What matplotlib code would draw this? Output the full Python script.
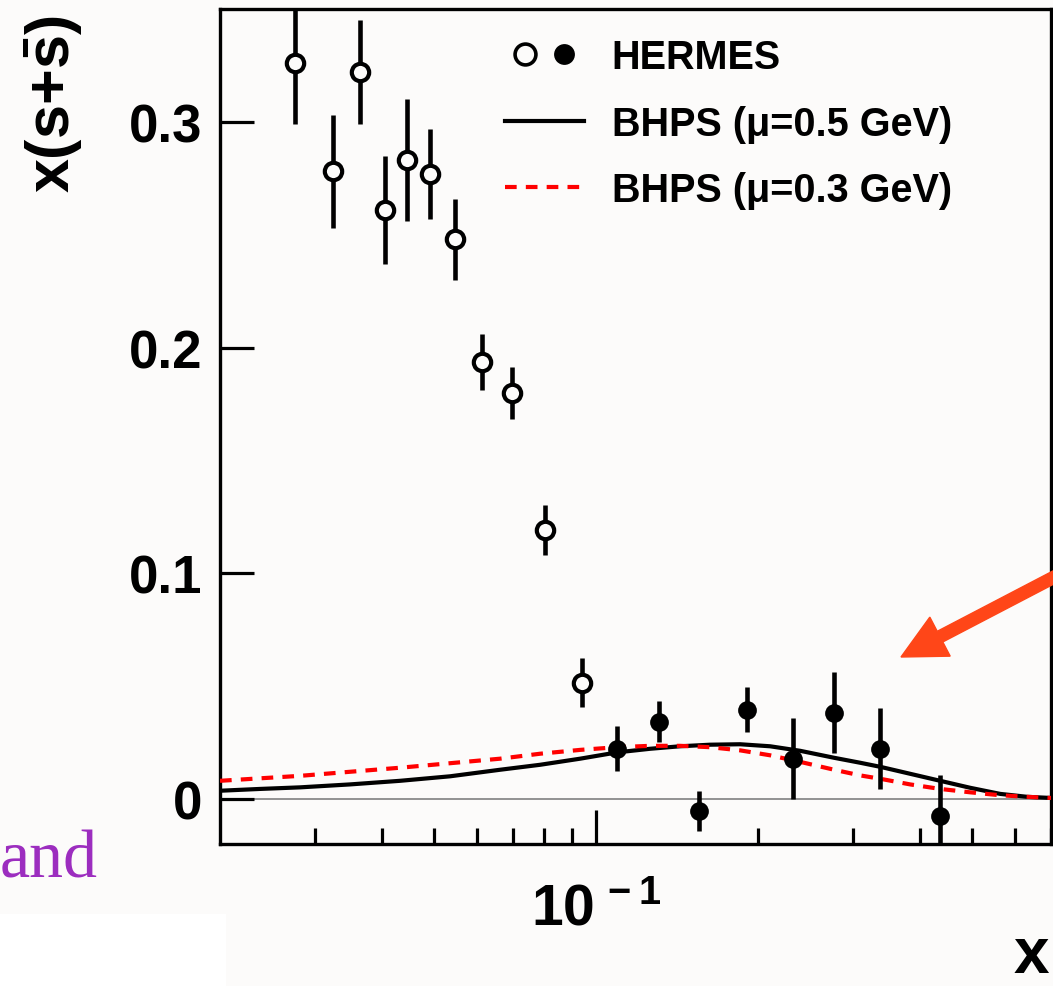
import matplotlib
matplotlib.use("Agg")
import matplotlib.pyplot as plt
from matplotlib.ticker import FixedLocator, FixedFormatter, NullFormatter
from matplotlib.legend_handler import HandlerTuple
from matplotlib.lines import Line2D
from matplotlib.patches import Rectangle, FancyArrow

# HERMES points, open (low x) and filled (high x)
x_open = [0.0276, 0.0324, 0.0364, 0.0405, 0.0445, 0.0491, 0.0547, 0.0614, 0.0698, 0.0804, 0.0942]
y_open = [0.326, 0.278, 0.322, 0.261, 0.283, 0.277, 0.248, 0.1935, 0.180, 0.119, 0.0515]
e_open = [0.027, 0.025, 0.023, 0.024, 0.027, 0.020, 0.018, 0.0124, 0.0115, 0.011, 0.0107]

x_full = [0.1094, 0.1309, 0.1553, 0.1908, 0.2323, 0.2768, 0.3372, 0.4357]
y_full = [0.0222, 0.0342, -0.0053, 0.0395, 0.0178, 0.0382, 0.0222, -0.0075]
e_full = [0.010, 0.009, 0.009, 0.010, 0.018, 0.018, 0.018, 0.018]

# BHPS curves
x_bhps = [0.0200, 0.02373, 0.02817, 0.03487, 0.04321, 0.05353, 0.06628, 0.07866, 0.09335,
          0.1094, 0.1260, 0.1432, 0.1628, 0.1851, 0.2105, 0.2393, 0.2768, 0.3094,
          0.3372, 0.3833, 0.4357, 0.4955, 0.5633, 0.6324, 0.70]
y_mu05 = [0.0036, 0.0044, 0.0051, 0.0064, 0.0080, 0.0100, 0.0129, 0.0151, 0.0178,
          0.0206, 0.0222, 0.0233, 0.0240, 0.0242, 0.0233, 0.0213, 0.0182, 0.0160,
          0.0142, 0.0111, 0.0080, 0.0049, 0.0022, 0.0009, 0.0004]
y_mu03 = [0.0080, 0.0091, 0.0102, 0.0120, 0.0138, 0.0158, 0.0178, 0.0200, 0.0217,
          0.0229, 0.0235, 0.0235, 0.0229, 0.0215, 0.0193, 0.0164, 0.0129, 0.0104,
          0.0089, 0.0064, 0.0044, 0.0029, 0.0016, 0.0009, 0.0004]

legend_labels = ["HERMES", "BHPS (\u03bc=0.5 GeV)", "BHPS (\u03bc=0.3 GeV)"]
y_ticks = [0, 0.1, 0.2, 0.3]
y_ticklabels = ["0", "0.1", "0.2", "0.3"]

bg = "#fcfbfa"
W, H = 1053, 987

plt.rcParams["font.family"] = ["Liberation Sans", "DejaVu Sans"]
plt.rcParams["font.weight"] = "bold"
plt.rcParams["axes.labelweight"] = "bold"
plt.rcParams["mathtext.fontset"] = "custom"
plt.rcParams["mathtext.rm"] = "Liberation Sans:bold"
plt.rcParams["mathtext.it"] = "Liberation Sans:bold"
plt.rcParams["mathtext.bf"] = "Liberation Sans:bold"

fig = plt.figure(figsize=(W / 100, H / 100), dpi=100, facecolor=bg)
ax = fig.add_axes([220 / W, 142 / H, 831 / W, 835 / H])
ax.set_facecolor(bg)

ax.axhline(0, color="#808080", lw=1.2, zorder=1)

ax.plot(x_bhps, y_mu05, color="black", lw=3, zorder=2)
ax.plot(x_bhps, y_mu03, color="red", lw=3, dashes=(2.8, 2.2), zorder=3)

ax.errorbar(x_open, y_open, yerr=e_open, fmt="o", ms=12.5, mew=3, mfc=bg, mec="black",
            ecolor="black", elinewidth=3.3, capsize=0, zorder=4)
ax.errorbar(x_full, y_full, yerr=e_full, fmt="o", ms=13.5, mew=0, mfc="black",
            ecolor="black", elinewidth=3.3, capsize=0, zorder=4)

ax.set_xscale("log")
ax.set_xlim(0.02, 0.7)
ax.set_ylim(-0.02, 0.35)

ax.xaxis.set_major_locator(FixedLocator([0.1]))
ax.xaxis.set_major_formatter(FixedFormatter([r"$10^{\,-1}$"]))
minors = [m * 0.01 for m in range(3, 10)] + [m * 0.1 for m in range(2, 8)]
ax.xaxis.set_minor_locator(FixedLocator(minors))
ax.xaxis.set_minor_formatter(NullFormatter())

ax.yaxis.set_major_locator(FixedLocator(y_ticks))
ax.yaxis.set_major_formatter(FixedFormatter(y_ticklabels))
ax.yaxis.set_minor_locator(FixedLocator([]))

ax.tick_params(axis="both", which="major", direction="in", length=24.5, width=2.3,
               labelsize=38, pad=13)
ax.tick_params(axis="x", which="minor", direction="in", length=11.5, width=2.3)
ax.tick_params(axis="x", which="major", labelsize=41, pad=27)
ax.tick_params(top=False, right=False)
for s in ax.spines.values():
    s.set_linewidth(2.4)

ax.set_ylabel(r"$x(s{+}\bar{s})$", fontsize=44)
ax.yaxis.set_label_coords((54 - 220) / 831, (845 - 104) / 835)
ax.yaxis.label.set(rotation_mode="default", ha="center", va="center")
ax.set_xlabel("x", fontsize=46, fontweight="bold")
ax.xaxis.set_label_coords((1031 - 220) / 831, (845 - 973) / 835)
ax.xaxis.label.set(ha="center", va="baseline")

h_open = Line2D([], [], ls="none", marker="o", ms=15, mew=2.6, mfc=bg, mec="black")
h_full = Line2D([], [], ls="none", marker="o", ms=15, mew=0, mfc="black")
h_05 = Line2D([], [], color="black", lw=3)
h_03 = Line2D([], [], color="red", lw=3, dashes=(2.8, 2.2))
ax.legend([(h_open, h_full), h_05, h_03], legend_labels,
          handler_map={tuple: HandlerTuple(ndivide=None, pad=0)},
          loc="upper left", bbox_to_anchor=((505 - 220) / 831, (845 - 39) / 835),
          frameon=False, fontsize=28.5, handlelength=2.0, handletextpad=0.7,
          labelspacing=0.72, borderpad=0, borderaxespad=0)

# slide overlay: white patch, text fragment and arrow
fig.patches.append(Rectangle((0, 0), 226 / W, 72 / H, transform=fig.transFigure,
                             facecolor="white", edgecolor="none", zorder=0))
fig.text(0.0, (H - 878) / H, "and", family="Liberation Serif", fontweight="normal",
         fontsize=49, color="#9c2dbf", ha="left", va="baseline")
fig.add_artist(FancyArrow(10.62, (H - 574) / 100, -1.61, -0.84, width=0.12,
                          head_width=0.44, head_length=0.44, length_includes_head=True,
                          color="#ff4618", transform=fig.dpi_scale_trans))

fig.savefig("out.png", dpi=100, facecolor=bg)
